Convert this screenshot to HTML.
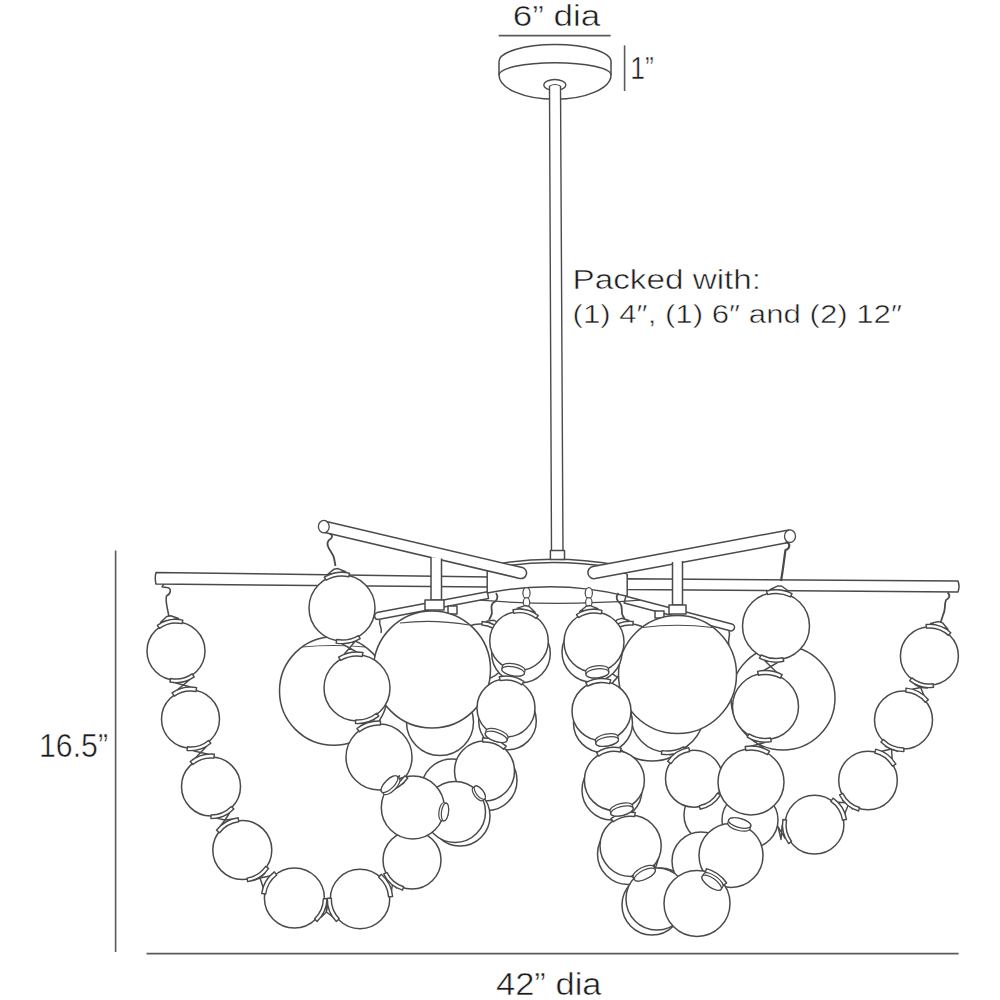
<!DOCTYPE html>
<html><head><meta charset="utf-8"><style>
html,body{margin:0;padding:0;background:#fff;}
svg{display:block;}
text{font-family:"Liberation Sans",sans-serif;}
</style></head><body>
<svg width="1000" height="1000" viewBox="0 0 1000 1000">
<rect width="1000" height="1000" fill="#fff"/>
<text x="512.8" y="26" font-size="30" fill="#1c1c1c" stroke="#fff" stroke-width="0.5" text-anchor="start" textLength="87.5" lengthAdjust="spacingAndGlyphs" >6” dia</text>
<line x1="498.7" y1="35.6" x2="610.6" y2="35.6" stroke="#5a5a5a" stroke-width="1.6" stroke-linecap="butt"/>
<line x1="624.6" y1="45.4" x2="624.6" y2="91" stroke="#5a5a5a" stroke-width="1.6" stroke-linecap="butt"/>
<text x="630.3" y="79" font-size="31" fill="#1c1c1c" stroke="#fff" stroke-width="0.5" text-anchor="start" textLength="23.5" lengthAdjust="spacingAndGlyphs" >1”</text>
<text x="572.5" y="289" font-size="27" fill="#1c1c1c" stroke="#fff" stroke-width="0.5" text-anchor="start" textLength="188.5" lengthAdjust="spacingAndGlyphs" >Packed with:</text>
<text x="572.5" y="323" font-size="26" fill="#1c1c1c" stroke="#fff" stroke-width="0.5" text-anchor="start" textLength="329.5" lengthAdjust="spacingAndGlyphs" >(1) 4″, (1) 6″ and (2) 12″</text>
<line x1="115.6" y1="550.5" x2="115.6" y2="952" stroke="#5a5a5a" stroke-width="1.6" stroke-linecap="butt"/>
<text x="39" y="757" font-size="32.5" fill="#1c1c1c" stroke="#fff" stroke-width="0.5" text-anchor="start" textLength="69" lengthAdjust="spacingAndGlyphs" >16.5”</text>
<line x1="146.5" y1="953.7" x2="958.6" y2="953.7" stroke="#5a5a5a" stroke-width="1.8" stroke-linecap="butt"/>
<text x="496" y="995" font-size="31" fill="#1c1c1c" stroke="#fff" stroke-width="0.5" text-anchor="start" textLength="105.5" lengthAdjust="spacingAndGlyphs" >42” dia</text>
<path d="M499,61.5 L499,75 A56,24.3 0 0 0 611,75 L611,61.5 A56,17 0 0 0 499,61.5 Z" fill="#fff" stroke="#4a4a4a" stroke-width="1.5" stroke-linejoin="round" />
<path d="M499,75 A56,12.3 0 0 1 611,75" fill="none" stroke="#4a4a4a" stroke-width="1.4" stroke-linejoin="round" />
<ellipse cx="554.8" cy="85" rx="11" ry="5.5" fill="#fff" stroke="#4a4a4a" stroke-width="1.3"/>
<path d="M549.5,86 L551.5,553 L563,553 L560.5,86 Z" fill="#fff" stroke="none"/>
<path d="M549.5,86 L551.5,553 M560.5,86 L563,553" fill="none" stroke="#4a4a4a" stroke-width="1.4" stroke-linejoin="round" />
<path d="M549.5,86 Q555,83 560.5,86" fill="none" stroke="#4a4a4a" stroke-width="1.2"/>
<path d="M156,572.4 L489,577 L489,587 L156,584 Q154.5,578 156,572.4 Z" fill="#fff" stroke="#4a4a4a" stroke-width="1.5" stroke-linejoin="round" />
<path d="M626,578.8 L958,581 Q960,586.5 958,592 L626,589.5 Z" fill="#fff" stroke="#4a4a4a" stroke-width="1.5" stroke-linejoin="round" />
<path d="M487.4,591.8 L376.9,612.6 A3.5,3.5 0 0 0 378.1,619.4 L488.6,598.6 Z" fill="#fff" stroke="#4a4a4a" stroke-width="1.5" stroke-linejoin="round" />
<path d="M624.1,603.0 L730.1,630.8 A3.5,3.5 0 0 0 731.9,624.0 L625.9,596.2 Z" fill="#fff" stroke="#4a4a4a" stroke-width="1.5" stroke-linejoin="round" />
<path d="M487.2,571 L487.2,593 Q556.8,579 627.2,596.2 L627.2,574 Z" fill="#fff"/>
<path d="M487.2,571 L487.2,593 Q556.8,579 627.2,596.2 L627.2,574" fill="none" stroke="#4a4a4a" stroke-width="1.5" stroke-linejoin="round" />
<path d="M480,600.2 Q557,606.5 640,600.2" fill="none" stroke="#4a4a4a" stroke-width="1.2" stroke-linejoin="round" />
<path d="M500.8,563.4 Q556.8,554.5 617.6,565 L613,567.5 Q557,558.5 505,566 Z" fill="#fff" stroke="#4a4a4a" stroke-width="1.5" stroke-linejoin="round" />
<path d="M505,566 Q500,570 487.2,571 M613,567.5 Q618,572 627.2,574" fill="none" stroke="#4a4a4a" stroke-width="1.2" stroke-linejoin="round" />
<path d="M550.4,550.6 L550.4,559.4 L564.5,559.4 L564.5,550.6 Z" fill="#fff" stroke="#4a4a4a" stroke-width="1.5" stroke-linejoin="round" />
<path d="M322.7,532.0 L519.7,578.4 A5.5,5.5 0 0 0 522.3,567.6 L325.3,521.2 Z" fill="#fff" stroke="#4a4a4a" stroke-width="1.5" stroke-linejoin="round" />
<ellipse cx="323.8" cy="526.6" rx="5.4" ry="6.2" fill="#fff" stroke="#4a4a4a" stroke-width="1.3"/>
<path d="M788.9,529.9 L592.9,566.4 A6.2,6.2 0 0 0 595.1,578.6 L791.1,542.1 Z" fill="#fff" stroke="#4a4a4a" stroke-width="1.5" stroke-linejoin="round" />
<ellipse cx="790" cy="536.2" rx="5.5" ry="6.3" fill="#fff" stroke="#4a4a4a" stroke-width="1.3"/>
<path d="M431,557 L431,600 L441.5,600 L441.5,558.5" fill="#fff" stroke="#4a4a4a" stroke-width="1.5" stroke-linejoin="round" />
<path d="M425,600 L444,600 L444,610 L425,610 Z" fill="#fff" stroke="#4a4a4a" stroke-width="1.5" stroke-linejoin="round" />
<path d="M672.5,562 L672.5,605 L682.5,605 L682.5,561" fill="#fff" stroke="#4a4a4a" stroke-width="1.5" stroke-linejoin="round" />
<path d="M669,605 L686,605 L686,614 L669,614 Z" fill="#fff" stroke="#4a4a4a" stroke-width="1.5" stroke-linejoin="round" />
<circle cx="333.75" cy="691" r="54.25" fill="#fff" stroke="#4a4a4a" stroke-width="1.5"/>
<path d="M302,647 Q333,644 365,647" fill="none" stroke="#4a4a4a" stroke-width="1.2" stroke-linejoin="round" />
<circle cx="783" cy="698" r="52" fill="#fff" stroke="#4a4a4a" stroke-width="1.5"/>
<circle cx="480" cy="652" r="28" fill="#fff" stroke="#4a4a4a" stroke-width="1.5"/>
<circle cx="440" cy="722" r="33.5" fill="#fff" stroke="#4a4a4a" stroke-width="1.5"/>
<circle cx="452" cy="790" r="31" fill="#fff" stroke="#4a4a4a" stroke-width="1.5"/>
<circle cx="630" cy="652" r="28" fill="#fff" stroke="#4a4a4a" stroke-width="1.5"/>
<circle cx="652" cy="712" r="49" fill="#fff" stroke="#4a4a4a" stroke-width="1.5"/>
<circle cx="667" cy="716" r="36" fill="#fff" stroke="#4a4a4a" stroke-width="1.5"/>
<circle cx="712" cy="815" r="28" fill="#fff" stroke="#4a4a4a" stroke-width="1.5"/>
<circle cx="750" cy="820" r="28" fill="#fff" stroke="#4a4a4a" stroke-width="1.5"/>
<circle cx="660" cy="898" r="30" fill="#fff" stroke="#4a4a4a" stroke-width="1.5"/>
<circle cx="701" cy="861" r="29" fill="#fff" stroke="#4a4a4a" stroke-width="1.5"/>
<path d="M496,593 C499,597 497,601 493,603 C489,607 494,612 491,616 L489,620" fill="none" stroke="#4a4a4a" stroke-width="1.8" stroke-linejoin="round" />
<path d="M501.99,629.38 L498.45,622.62 L494.04,620.28 L486.46,621.12 Z" fill="#fff" stroke="#4a4a4a" stroke-width="1.45" stroke-linejoin="round"/><path d="M481.86,625.06 A27,27 0 0 1 501.29,635.39 L504.13,633.18 A30.6,30.6 0 0 0 482.11,621.47 Z" fill="#fff" stroke="#4a4a4a" stroke-width="1.45" stroke-linejoin="round"/>
<path d="M618.5,593 C615,597 617,601 620,603 C624,608 620,612 623,616 L625,620" fill="none" stroke="#4a4a4a" stroke-width="1.8" stroke-linejoin="round" />
<path d="M629.01,620.46 L621.69,618.32 L616.93,619.87 L612.27,625.9 Z" fill="#fff" stroke="#4a4a4a" stroke-width="1.45" stroke-linejoin="round"/><path d="M611.92,631.95 A27,27 0 0 1 632.84,625.15 L633.22,621.57 A30.6,30.6 0 0 0 609.51,629.27 Z" fill="#fff" stroke="#4a4a4a" stroke-width="1.45" stroke-linejoin="round"/>
<path d="M380,620 C378,625 383,628 381,633" fill="none" stroke="#4a4a4a" stroke-width="1.5" stroke-linejoin="round" />
<path d="M729,631 C731,636 727,640 729,645" fill="none" stroke="#4a4a4a" stroke-width="1.5" stroke-linejoin="round" />
<path d="M448,606 L448,614 L457,614 L457,606 Z" fill="#fff" stroke="#4a4a4a" stroke-width="1.5" stroke-linejoin="round" />
<path d="M655,611 L655,618 L664,618 L664,611 Z" fill="#fff" stroke="#4a4a4a" stroke-width="1.5" stroke-linejoin="round" />
<circle cx="432" cy="669.5" r="58.5" fill="#fff" stroke="#4a4a4a" stroke-width="1.5"/>
<path d="M400,623 Q434,619 469,625" fill="none" stroke="#4a4a4a" stroke-width="1.2" stroke-linejoin="round" />
<circle cx="677.5" cy="674.5" r="59" fill="#fff" stroke="#4a4a4a" stroke-width="1.5"/>
<path d="M642.5,627.5 Q677,623 712.5,627.5" fill="none" stroke="#4a4a4a" stroke-width="1.2" stroke-linejoin="round" />
<circle cx="521" cy="653.5" r="29.3" fill="#fff" stroke="#4a4a4a" stroke-width="1.5"/>
<circle cx="507.5" cy="721" r="28.8" fill="#fff" stroke="#4a4a4a" stroke-width="1.5"/>
<circle cx="487" cy="780.5" r="30" fill="#fff" stroke="#4a4a4a" stroke-width="1.5"/>
<circle cx="592" cy="652" r="30" fill="#fff" stroke="#4a4a4a" stroke-width="1.5"/>
<circle cx="603" cy="723" r="29.5" fill="#fff" stroke="#4a4a4a" stroke-width="1.5"/>
<circle cx="612" cy="790" r="30" fill="#fff" stroke="#4a4a4a" stroke-width="1.5"/>
<circle cx="628" cy="854" r="30.5" fill="#fff" stroke="#4a4a4a" stroke-width="1.5"/>
<circle cx="652" cy="905" r="30" fill="#fff" stroke="#4a4a4a" stroke-width="1.5"/>
<ellipse cx="526.5" cy="593.06" rx="3.6" ry="5.52" fill="#fff" stroke="#4a4a4a" stroke-width="1.2"/>
<ellipse cx="526.5" cy="602.26" rx="3.2" ry="4.6000000000000005" fill="#fff" stroke="#4a4a4a" stroke-width="1.2"/>
<path d="M524.5,606.86 L524.0,611 M528.5,606.86 L529.0,611" stroke="#4a4a4a" stroke-width="1.2" fill="none"/>
<circle cx="519" cy="641" r="29.3" fill="#fff" stroke="#4a4a4a" stroke-width="1.5"/>
<path d="M535.14,612.32 L529.11,606.49 L525.21,605.58 L517.22,608.14 Z" fill="#fff" stroke="#4a4a4a" stroke-width="1.45" stroke-linejoin="round"/><path d="M513.68,613.21 A28.3,28.3 0 0 1 536.07,618.43 L538.25,615.56 A31.9,31.9 0 0 0 513,609.67 Z" fill="#fff" stroke="#4a4a4a" stroke-width="1.45" stroke-linejoin="round"/>
<circle cx="506" cy="708" r="29" fill="#fff" stroke="#4a4a4a" stroke-width="1.5"/>
<path d="M500.11,680.63 A28,28 0 0 1 521.7,684.82 L523.95,681.51 A32,32 0 0 0 499.26,676.72 Z" fill="#fff" stroke="#4a4a4a" stroke-width="1.45" stroke-linejoin="round"/>
<g transform="translate(519,641) rotate(190.98)"><path d="M-11.5,-30.8 L-11.5,-27.8 A11.5,4.5 0 0 0 11.5,-27.8 L11.5,-30.8 A11.5,4.5 0 0 0 -11.5,-30.8 Z" fill="#fff" stroke="#4a4a4a" stroke-width="1.2" stroke-linejoin="round"/><ellipse cx="0" cy="-30.8" rx="11.5" ry="4.5" fill="#fff" stroke="#4a4a4a" stroke-width="1.2"/></g>
<circle cx="484.5" cy="771" r="30" fill="#fff" stroke="#4a4a4a" stroke-width="1.5"/>
<path d="M482.76,742.05 A29,29 0 0 1 503.58,749.16 L506.21,746.15 A33,33 0 0 0 482.52,738.06 Z" fill="#fff" stroke="#4a4a4a" stroke-width="1.45" stroke-linejoin="round"/>
<g transform="translate(506,708) rotate(198.84)"><path d="M-11.5,-30.5 L-11.5,-27.5 A11.5,4.5 0 0 0 11.5,-27.5 L11.5,-30.5 A11.5,4.5 0 0 0 -11.5,-30.5 Z" fill="#fff" stroke="#4a4a4a" stroke-width="1.2" stroke-linejoin="round"/><ellipse cx="0" cy="-30.5" rx="11.5" ry="4.5" fill="#fff" stroke="#4a4a4a" stroke-width="1.2"/></g>
<ellipse cx="588.8" cy="593.06" rx="3.6" ry="5.52" fill="#fff" stroke="#4a4a4a" stroke-width="1.2"/>
<ellipse cx="588.8" cy="602.26" rx="3.2" ry="4.6000000000000005" fill="#fff" stroke="#4a4a4a" stroke-width="1.2"/>
<path d="M586.8,606.86 L586.3,611 M590.8,606.86 L591.3,611" stroke="#4a4a4a" stroke-width="1.2" fill="none"/>
<circle cx="594" cy="642" r="30" fill="#fff" stroke="#4a4a4a" stroke-width="1.5"/>
<path d="M597.94,608.65 L590.15,605.55 L586.2,606.19 L579.77,611.58 Z" fill="#fff" stroke="#4a4a4a" stroke-width="1.45" stroke-linejoin="round"/><path d="M578.41,617.55 A29,29 0 0 1 601.11,613.89 L602,610.4 A32.6,32.6 0 0 0 576.47,614.51 Z" fill="#fff" stroke="#4a4a4a" stroke-width="1.45" stroke-linejoin="round"/>
<circle cx="601.5" cy="711" r="29.5" fill="#fff" stroke="#4a4a4a" stroke-width="1.5"/>
<path d="M587.72,686.05 A28.5,28.5 0 0 1 609.59,683.67 L610.73,679.84 A32.5,32.5 0 0 0 585.79,682.55 Z" fill="#fff" stroke="#4a4a4a" stroke-width="1.45" stroke-linejoin="round"/>
<g transform="translate(594,642) rotate(173.8)"><path d="M-11.5,-31.5 L-11.5,-28.5 A11.5,4.5 0 0 0 11.5,-28.5 L11.5,-31.5 A11.5,4.5 0 0 0 -11.5,-31.5 Z" fill="#fff" stroke="#4a4a4a" stroke-width="1.2" stroke-linejoin="round"/><ellipse cx="0" cy="-31.5" rx="11.5" ry="4.5" fill="#fff" stroke="#4a4a4a" stroke-width="1.2"/></g>
<circle cx="614.4" cy="780.4" r="30" fill="#fff" stroke="#4a4a4a" stroke-width="1.5"/>
<path d="M598.68,756.03 A29,29 0 0 1 620.31,752.01 L621.13,748.09 A33,33 0 0 0 596.51,752.67 Z" fill="#fff" stroke="#4a4a4a" stroke-width="1.45" stroke-linejoin="round"/>
<g transform="translate(601.5,711) rotate(169.47)"><path d="M-11.5,-31 L-11.5,-28 A11.5,4.5 0 0 0 11.5,-28 L11.5,-31 A11.5,4.5 0 0 0 -11.5,-31 Z" fill="#fff" stroke="#4a4a4a" stroke-width="1.2" stroke-linejoin="round"/><ellipse cx="0" cy="-31" rx="11.5" ry="4.5" fill="#fff" stroke="#4a4a4a" stroke-width="1.2"/></g>
<circle cx="630.6" cy="845.8" r="30.6" fill="#fff" stroke="#4a4a4a" stroke-width="1.5"/>
<path d="M613.32,821.77 A29.6,29.6 0 0 1 634.67,816.48 L635.22,812.52 A33.6,33.6 0 0 0 610.98,818.52 Z" fill="#fff" stroke="#4a4a4a" stroke-width="1.45" stroke-linejoin="round"/>
<g transform="translate(614.4,780.4) rotate(166.09)"><path d="M-11.5,-31.5 L-11.5,-28.5 A11.5,4.5 0 0 0 11.5,-28.5 L11.5,-31.5 A11.5,4.5 0 0 0 -11.5,-31.5 Z" fill="#fff" stroke="#4a4a4a" stroke-width="1.2" stroke-linejoin="round"/><ellipse cx="0" cy="-31.5" rx="11.5" ry="4.5" fill="#fff" stroke="#4a4a4a" stroke-width="1.2"/></g>
<circle cx="657" cy="899" r="31" fill="#fff" stroke="#4a4a4a" stroke-width="1.5"/>
<path d="M634.74,878.89 A30,30 0 0 1 654.45,869.11 L654.11,865.12 A34,34 0 0 0 631.77,876.21 Z" fill="#fff" stroke="#4a4a4a" stroke-width="1.45" stroke-linejoin="round"/>
<g transform="translate(630.6,845.8) rotate(153.61)"><path d="M-11.5,-32.1 L-11.5,-29.1 A11.5,4.5 0 0 0 11.5,-29.1 L11.5,-32.1 A11.5,4.5 0 0 0 -11.5,-32.1 Z" fill="#fff" stroke="#4a4a4a" stroke-width="1.2" stroke-linejoin="round"/><ellipse cx="0" cy="-32.1" rx="11.5" ry="4.5" fill="#fff" stroke="#4a4a4a" stroke-width="1.2"/></g>
<path d="M164,584.5 C160,588 163,587 167,587.5 C172,588 171,594 166.5,596 C165,602 168,610 169,617" fill="none" stroke="#4a4a4a" stroke-width="1.6" stroke-linejoin="round" />
<circle cx="176" cy="651" r="29" fill="#fff" stroke="#4a4a4a" stroke-width="1.5"/>
<path d="M178.6,618.48 L170.68,615.74 L166.76,616.56 L160.59,622.24 Z" fill="#fff" stroke="#4a4a4a" stroke-width="1.45" stroke-linejoin="round"/><path d="M159.52,628.36 A28,28 0 0 1 182.04,623.66 L182.81,620.14 A31.6,31.6 0 0 0 157.4,625.45 Z" fill="#fff" stroke="#4a4a4a" stroke-width="1.45" stroke-linejoin="round"/>
<circle cx="190.5" cy="719" r="29" fill="#fff" stroke="#4a4a4a" stroke-width="1.5"/>
<path d="M176.07,682.99 L183.25,685 L188.98,680.24 Z" fill="#fff" stroke="#4a4a4a" stroke-width="1.45" stroke-linejoin="round"/>
<path d="M190.43,687.01 L183.25,685 L177.52,689.76 Z" fill="#fff" stroke="#4a4a4a" stroke-width="1.45" stroke-linejoin="round"/>
<path d="M174.37,696.11 A28,28 0 0 1 195.89,691.52 L196.66,687.6 A32,32 0 0 0 172.07,692.84 Z" fill="#fff" stroke="#4a4a4a" stroke-width="1.45" stroke-linejoin="round"/>
<path d="M192.13,673.89 A28,28 0 0 1 170.61,678.48 L169.92,682.01 A31.6,31.6 0 0 0 194.2,676.83 Z" fill="#fff" stroke="#4a4a4a" stroke-width="1.45" stroke-linejoin="round"/>
<circle cx="211" cy="786.5" r="29.5" fill="#fff" stroke="#4a4a4a" stroke-width="1.5"/>
<path d="M193.28,750.87 L200.68,752.51 L205.91,747.03 Z" fill="#fff" stroke="#4a4a4a" stroke-width="1.45" stroke-linejoin="round"/>
<path d="M208.07,754.15 L200.68,752.51 L195.44,757.99 Z" fill="#fff" stroke="#4a4a4a" stroke-width="1.45" stroke-linejoin="round"/>
<path d="M192.83,764.54 A28.5,28.5 0 0 1 213.89,758.15 L214.29,754.17 A32.5,32.5 0 0 0 190.28,761.46 Z" fill="#fff" stroke="#4a4a4a" stroke-width="1.45" stroke-linejoin="round"/>
<path d="M208.51,740.44 A28,28 0 0 1 187.46,746.83 L187.07,750.41 A31.6,31.6 0 0 0 210.82,743.2 Z" fill="#fff" stroke="#4a4a4a" stroke-width="1.45" stroke-linejoin="round"/>
<circle cx="242.3" cy="850" r="29.5" fill="#fff" stroke="#4a4a4a" stroke-width="1.5"/>
<path d="M217.17,818.39 L225,820 L229.35,813.3 Z" fill="#fff" stroke="#4a4a4a" stroke-width="1.45" stroke-linejoin="round"/>
<path d="M232.13,819.16 L225,820 L220.7,825.75 Z" fill="#fff" stroke="#4a4a4a" stroke-width="1.45" stroke-linejoin="round"/>
<path d="M219.64,832.72 A28.5,28.5 0 0 1 238.69,821.73 L238.19,817.76 A32.5,32.5 0 0 0 216.46,830.29 Z" fill="#fff" stroke="#4a4a4a" stroke-width="1.45" stroke-linejoin="round"/>
<path d="M231.29,806.52 A28.5,28.5 0 0 1 210.99,815 L210.99,818.6 A32.1,32.1 0 0 0 233.85,809.05 Z" fill="#fff" stroke="#4a4a4a" stroke-width="1.45" stroke-linejoin="round"/>
<circle cx="294.4" cy="898" r="30" fill="#fff" stroke="#4a4a4a" stroke-width="1.5"/>
<path d="M253.71,880.41 L260,878 L264.87,873.35 Z" fill="#fff" stroke="#4a4a4a" stroke-width="1.45" stroke-linejoin="round"/>
<path d="M269.79,876.06 L260,878 L263.16,887.47 Z" fill="#fff" stroke="#4a4a4a" stroke-width="1.45" stroke-linejoin="round"/>
<path d="M265.67,894.02 A29,29 0 0 1 276.73,875 L274.29,871.83 A33,33 0 0 0 261.71,893.47 Z" fill="#fff" stroke="#4a4a4a" stroke-width="1.45" stroke-linejoin="round"/>
<path d="M265.65,866.35 A28.5,28.5 0 0 1 247.05,878.1 L247.65,881.65 A32.1,32.1 0 0 0 268.6,868.41 Z" fill="#fff" stroke="#4a4a4a" stroke-width="1.45" stroke-linejoin="round"/>
<circle cx="360" cy="899" r="29.7" fill="#fff" stroke="#4a4a4a" stroke-width="1.5"/>
<path d="M321.35,916.99 L326.4,912 L326.64,904.9 Z" fill="#fff" stroke="#4a4a4a" stroke-width="1.45" stroke-linejoin="round"/>
<path d="M327.77,904.39 L326.4,912 L332.54,916.7 Z" fill="#fff" stroke="#4a4a4a" stroke-width="1.45" stroke-linejoin="round"/>
<path d="M339.25,918.82 A28.7,28.7 0 0 1 331.31,898.31 L327.31,898.21 A32.7,32.7 0 0 0 336.35,921.59 Z" fill="#fff" stroke="#4a4a4a" stroke-width="1.45" stroke-linejoin="round"/>
<path d="M323.39,898.68 A29,29 0 0 1 314.57,918.83 L317.08,921.42 A32.6,32.6 0 0 0 326.99,898.76 Z" fill="#fff" stroke="#4a4a4a" stroke-width="1.45" stroke-linejoin="round"/>
<circle cx="412" cy="860" r="29" fill="#fff" stroke="#4a4a4a" stroke-width="1.5"/>
<path d="M386.62,879.47 L392.8,882.4 L396.64,888.06 Z" fill="#fff" stroke="#4a4a4a" stroke-width="1.45" stroke-linejoin="round"/>
<path d="M391.53,890.44 L392.8,882.4 L385.57,878.66 Z" fill="#fff" stroke="#4a4a4a" stroke-width="1.45" stroke-linejoin="round"/>
<path d="M378.68,877.22 A28.7,28.7 0 0 1 388.62,896.84 L392.61,896.54 A32.7,32.7 0 0 0 381.29,874.18 Z" fill="#fff" stroke="#4a4a4a" stroke-width="1.45" stroke-linejoin="round"/>
<path d="M403.59,886.71 A28,28 0 0 1 386.89,872.39 L383.66,873.98 A31.6,31.6 0 0 0 402.51,890.14 Z" fill="#fff" stroke="#4a4a4a" stroke-width="1.45" stroke-linejoin="round"/>
<path d="M329.6,533.5 C333,535 333,538 329,540 C324,546 333,552 334,558 L335.5,566" fill="none" stroke="#4a4a4a" stroke-width="1.8" stroke-linejoin="round" />
<circle cx="460" cy="816" r="30" fill="#fff" stroke="#4a4a4a" stroke-width="1.5"/>
<circle cx="455" cy="812" r="30.5" fill="#fff" stroke="#4a4a4a" stroke-width="1.5"/>
<g transform="translate(455,812) rotate(52)"><path d="M-8,-31.5 L-8,-29 A8,3.5 0 0 0 8,-29 L8,-31.5 A8,3.5 0 0 0 -8,-31.5 Z" fill="#fff" stroke="#4a4a4a" stroke-width="1.2" stroke-linejoin="round"/><ellipse cx="0" cy="-31.5" rx="8" ry="3.5" fill="#fff" stroke="#4a4a4a" stroke-width="1.2"/></g>
<circle cx="342" cy="608" r="33" fill="#fff" stroke="#4a4a4a" stroke-width="1.5"/>
<path d="M345.73,571.71 L337.96,568.56 L334,569.16 L327.54,574.51 Z" fill="#fff" stroke="#4a4a4a" stroke-width="1.45" stroke-linejoin="round"/><path d="M326.09,580.23 A32,32 0 0 1 348.83,576.74 L349.59,573.22 A35.6,35.6 0 0 0 324.3,577.11 Z" fill="#fff" stroke="#4a4a4a" stroke-width="1.45" stroke-linejoin="round"/>
<circle cx="357" cy="688" r="33" fill="#fff" stroke="#4a4a4a" stroke-width="1.5"/>
<path d="M342.02,643.91 L349.5,648 L354.99,641.48 Z" fill="#fff" stroke="#4a4a4a" stroke-width="1.45" stroke-linejoin="round"/>
<path d="M356.98,652.09 L349.5,648 L344.01,654.52 Z" fill="#fff" stroke="#4a4a4a" stroke-width="1.45" stroke-linejoin="round"/>
<path d="M340.65,660.49 A32,32 0 0 1 362.27,656.44 L362.93,652.49 A36,36 0 0 0 338.61,657.05 Z" fill="#fff" stroke="#4a4a4a" stroke-width="1.45" stroke-linejoin="round"/>
<path d="M358.35,635.51 A32,32 0 0 1 336.73,639.56 L336.13,643.11 A35.6,35.6 0 0 0 360.19,638.6 Z" fill="#fff" stroke="#4a4a4a" stroke-width="1.45" stroke-linejoin="round"/>
<circle cx="379" cy="757" r="33" fill="#fff" stroke="#4a4a4a" stroke-width="1.5"/>
<path d="M361.44,723.64 L368,722.5 L374.01,719.63 Z" fill="#fff" stroke="#4a4a4a" stroke-width="1.45" stroke-linejoin="round"/>
<path d="M374.56,721.36 L368,722.5 L361.99,725.37 Z" fill="#fff" stroke="#4a4a4a" stroke-width="1.45" stroke-linejoin="round"/>
<path d="M359.39,731.71 A32,32 0 0 1 380.35,725.03 L380.52,721.03 A36,36 0 0 0 356.94,728.55 Z" fill="#fff" stroke="#4a4a4a" stroke-width="1.45" stroke-linejoin="round"/>
<path d="M376.61,713.29 A32,32 0 0 1 355.65,719.97 L355.5,723.57 A35.6,35.6 0 0 0 378.81,716.13 Z" fill="#fff" stroke="#4a4a4a" stroke-width="1.45" stroke-linejoin="round"/>
<circle cx="412.8" cy="807.5" r="31.5" fill="#fff" stroke="#4a4a4a" stroke-width="1.5"/>
<path d="M393.15,790.01 L396.32,782.87 L404.12,782.66 Z" fill="#fff" stroke="#4a4a4a" stroke-width="1.45" stroke-linejoin="round"/>
<path d="M399.48,775.74 L396.32,782.87 L388.51,783.08 Z" fill="#fff" stroke="#4a4a4a" stroke-width="1.45" stroke-linejoin="round"/>
<path d="M404.86,775.85 A32,32 0 0 1 386.57,788.09 L387.42,791.59 A35.6,35.6 0 0 0 407.76,777.98 Z" fill="#fff" stroke="#4a4a4a" stroke-width="1.45" stroke-linejoin="round"/>
<g transform="translate(412.8,807.5) rotate(-45)"><path d="M-11,-33 L-11,-30 A11,4.5 0 0 0 11,-30 L11,-33 A11,4.5 0 0 0 -11,-33 Z" fill="#fff" stroke="#4a4a4a" stroke-width="1.2" stroke-linejoin="round"/><ellipse cx="0" cy="-33" rx="11" ry="4.5" fill="#fff" stroke="#4a4a4a" stroke-width="1.2"/></g>
<g transform="translate(412.8,807.5) rotate(98)"><path d="M-9,-32.5 L-9,-30 A9,3.5 0 0 0 9,-30 L9,-32.5 A9,3.5 0 0 0 -9,-32.5 Z" fill="#fff" stroke="#4a4a4a" stroke-width="1.2" stroke-linejoin="round"/><ellipse cx="0" cy="-32.5" rx="9" ry="3.5" fill="#fff" stroke="#4a4a4a" stroke-width="1.2"/></g>
<circle cx="694" cy="778.7" r="28.5" fill="#fff" stroke="#4a4a4a" stroke-width="1.5"/>
<path d="M669.76,754.77 L676,752.5 L682.58,751.61 Z" fill="#fff" stroke="#4a4a4a" stroke-width="1.45" stroke-linejoin="round"/>
<path d="M682,749.58 L676,752.5 L671.12,757.05 Z" fill="#fff" stroke="#4a4a4a" stroke-width="1.45" stroke-linejoin="round"/>
<path d="M683.6,746.81 A35,35 0 0 1 661.94,750.63 L661.42,754.19 A38.6,38.6 0 0 0 685.31,749.98 Z" fill="#fff" stroke="#4a4a4a" stroke-width="1.45" stroke-linejoin="round"/>
<path d="M671.05,763.55 A27.5,27.5 0 0 1 689.5,751.57 L688.84,747.62 A31.5,31.5 0 0 0 667.71,761.35 Z" fill="#fff" stroke="#4a4a4a" stroke-width="1.45" stroke-linejoin="round"/>
<path d="M717.47,793.04 A27.5,27.5 0 0 1 699.45,805.66 L700.16,809.18 A31.1,31.1 0 0 0 720.54,794.91 Z" fill="#fff" stroke="#4a4a4a" stroke-width="1.45" stroke-linejoin="round"/>
<path d="M785.5,542 C791,543 790,549 785.5,550 C784,560 783,570 781,581" fill="none" stroke="#4a4a4a" stroke-width="2.2" stroke-linejoin="round" />
<circle cx="776" cy="626" r="33.5" fill="#fff" stroke="#4a4a4a" stroke-width="1.5"/>
<path d="M788.63,591.26 L781.88,586.28 L777.9,585.9 L770.32,589.48 Z" fill="#fff" stroke="#4a4a4a" stroke-width="1.45" stroke-linejoin="round"/><path d="M767.51,594.63 A32.5,32.5 0 0 1 790.4,596.86 L791.99,593.64 A36.1,36.1 0 0 0 766.57,591.15 Z" fill="#fff" stroke="#4a4a4a" stroke-width="1.45" stroke-linejoin="round"/>
<circle cx="765.5" cy="706.5" r="33" fill="#fff" stroke="#4a4a4a" stroke-width="1.5"/>
<path d="M764.83,660.65 L770.72,666.5 L777.91,662.35 Z" fill="#fff" stroke="#4a4a4a" stroke-width="1.45" stroke-linejoin="round"/>
<path d="M776.61,672.35 L770.72,666.5 L763.52,670.64 Z" fill="#fff" stroke="#4a4a4a" stroke-width="1.45" stroke-linejoin="round"/>
<path d="M758.48,675.28 A32,32 0 0 1 780.29,678.13 L782.14,674.58 A36,36 0 0 0 757.6,671.38 Z" fill="#fff" stroke="#4a4a4a" stroke-width="1.45" stroke-linejoin="round"/>
<path d="M782.95,657.75 A32.5,32.5 0 0 1 761.14,654.9 L759.49,658.1 A36.1,36.1 0 0 0 783.72,661.26 Z" fill="#fff" stroke="#4a4a4a" stroke-width="1.45" stroke-linejoin="round"/>
<circle cx="751" cy="782" r="33" fill="#fff" stroke="#4a4a4a" stroke-width="1.5"/>
<path d="M752.36,739.92 L758.25,744.25 L765.32,742.41 Z" fill="#fff" stroke="#4a4a4a" stroke-width="1.45" stroke-linejoin="round"/>
<path d="M764.14,748.58 L758.25,744.25 L751.18,746.09 Z" fill="#fff" stroke="#4a4a4a" stroke-width="1.45" stroke-linejoin="round"/>
<path d="M745.87,750.41 A32,32 0 0 1 767.47,754.56 L769.53,751.13 A36,36 0 0 0 745.22,746.47 Z" fill="#fff" stroke="#4a4a4a" stroke-width="1.45" stroke-linejoin="round"/>
<path d="M770.63,738.09 A32,32 0 0 1 749.03,733.94 L747.18,737.02 A35.6,35.6 0 0 0 771.21,741.64 Z" fill="#fff" stroke="#4a4a4a" stroke-width="1.45" stroke-linejoin="round"/>
<circle cx="731" cy="855.4" r="32" fill="#fff" stroke="#4a4a4a" stroke-width="1.5"/>
<circle cx="697" cy="903.4" r="33" fill="#fff" stroke="#4a4a4a" stroke-width="1.5"/>
<path d="M705.39,872.52 A32,32 0 0 1 723.35,885.24 L726.64,882.97 A36,36 0 0 0 706.44,868.66 Z" fill="#fff" stroke="#4a4a4a" stroke-width="1.45" stroke-linejoin="round"/>
<g transform="translate(731,855.4) rotate(215.31)"><path d="M-11.5,-33.5 L-11.5,-30.5 A11.5,4.5 0 0 0 11.5,-30.5 L11.5,-33.5 A11.5,4.5 0 0 0 -11.5,-33.5 Z" fill="#fff" stroke="#4a4a4a" stroke-width="1.2" stroke-linejoin="round"/><ellipse cx="0" cy="-33.5" rx="11.5" ry="4.5" fill="#fff" stroke="#4a4a4a" stroke-width="1.2"/></g>
<g transform="translate(731,855.4) rotate(15)"><path d="M-11.5,-33.5 L-11.5,-30.5 A11.5,4.5 0 0 0 11.5,-30.5 L11.5,-33.5 A11.5,4.5 0 0 0 -11.5,-33.5 Z" fill="#fff" stroke="#4a4a4a" stroke-width="1.2" stroke-linejoin="round"/><ellipse cx="0" cy="-33.5" rx="11.5" ry="4.5" fill="#fff" stroke="#4a4a4a" stroke-width="1.2"/></g>
<path d="M947.5,592.5 C951,595 949,599 946,600 C944,605 946,610 943,615 L940.5,623" fill="none" stroke="#4a4a4a" stroke-width="1.8" stroke-linejoin="round" />
<circle cx="929.4" cy="656" r="29" fill="#fff" stroke="#4a4a4a" stroke-width="1.5"/>
<path d="M947.98,629.18 L942.5,622.84 L938.7,621.58 L930.51,623.39 Z" fill="#fff" stroke="#4a4a4a" stroke-width="1.45" stroke-linejoin="round"/><path d="M926.51,628.15 A28,28 0 0 1 948.35,635.38 L950.78,632.73 A31.6,31.6 0 0 0 926.14,624.57 Z" fill="#fff" stroke="#4a4a4a" stroke-width="1.45" stroke-linejoin="round"/>
<circle cx="903.5" cy="720" r="29" fill="#fff" stroke="#4a4a4a" stroke-width="1.5"/>
<path d="M914.62,684.37 L920.6,687.5 L927.33,687.92 Z" fill="#fff" stroke="#4a4a4a" stroke-width="1.45" stroke-linejoin="round"/>
<path d="M923.92,695.37 L920.6,687.5 L912.23,689.23 Z" fill="#fff" stroke="#4a4a4a" stroke-width="1.45" stroke-linejoin="round"/>
<path d="M905.75,692.09 A28,28 0 0 1 925.22,702.33 L928.33,699.81 A32,32 0 0 0 906.08,688.1 Z" fill="#fff" stroke="#4a4a4a" stroke-width="1.45" stroke-linejoin="round"/>
<path d="M933.07,683.76 A28,28 0 0 1 911.88,677.84 L909.62,680.65 A31.6,31.6 0 0 0 933.54,687.33 Z" fill="#fff" stroke="#4a4a4a" stroke-width="1.45" stroke-linejoin="round"/>
<circle cx="868" cy="780.5" r="29.3" fill="#fff" stroke="#4a4a4a" stroke-width="1.5"/>
<path d="M885.43,746.4 L891.5,749 L897.63,751.45 Z" fill="#fff" stroke="#4a4a4a" stroke-width="1.45" stroke-linejoin="round"/>
<path d="M892.19,759.12 L891.5,749 L881.61,751.23 Z" fill="#fff" stroke="#4a4a4a" stroke-width="1.45" stroke-linejoin="round"/>
<path d="M874.77,753.02 A28.3,28.3 0 0 1 892.41,766.18 L895.86,764.15 A32.3,32.3 0 0 0 875.73,749.14 Z" fill="#fff" stroke="#4a4a4a" stroke-width="1.45" stroke-linejoin="round"/>
<path d="M903.82,748 A28,28 0 0 1 883.49,739.59 L880.92,742.1 A31.6,31.6 0 0 0 903.86,751.6 Z" fill="#fff" stroke="#4a4a4a" stroke-width="1.45" stroke-linejoin="round"/>
<circle cx="814.5" cy="824.7" r="29.4" fill="#fff" stroke="#4a4a4a" stroke-width="1.5"/>
<path d="M842.57,800.39 L849,803 L852.65,808.9 Z" fill="#fff" stroke="#4a4a4a" stroke-width="1.45" stroke-linejoin="round"/>
<path d="M844.85,813.41 L849,803 L837.82,802.24 Z" fill="#fff" stroke="#4a4a4a" stroke-width="1.45" stroke-linejoin="round"/>
<path d="M830.81,801.45 A28.4,28.4 0 0 1 842.52,820.07 L846.47,819.42 A32.4,32.4 0 0 0 833.1,798.17 Z" fill="#fff" stroke="#4a4a4a" stroke-width="1.45" stroke-linejoin="round"/>
<path d="M859.58,807.52 A28.3,28.3 0 0 1 842.77,793.32 L839.56,794.96 A31.9,31.9 0 0 0 858.51,810.96 Z" fill="#fff" stroke="#4a4a4a" stroke-width="1.45" stroke-linejoin="round"/>
<path d="M782.13,825.59 L781.57,832.51 L785.18,838.44 Z" fill="#fff" stroke="#4a4a4a" stroke-width="1.45" stroke-linejoin="round"/>
<path d="M781.01,839.43 L781.57,832.51 L777.96,826.58 Z" fill="#fff" stroke="#4a4a4a" stroke-width="1.45" stroke-linejoin="round"/>
<path d="M791.56,841.45 A28.4,28.4 0 0 1 786.48,820.04 L782.93,819.45 A32,32 0 0 0 788.66,843.57 Z" fill="#fff" stroke="#4a4a4a" stroke-width="1.45" stroke-linejoin="round"/>
</svg></body></html>
